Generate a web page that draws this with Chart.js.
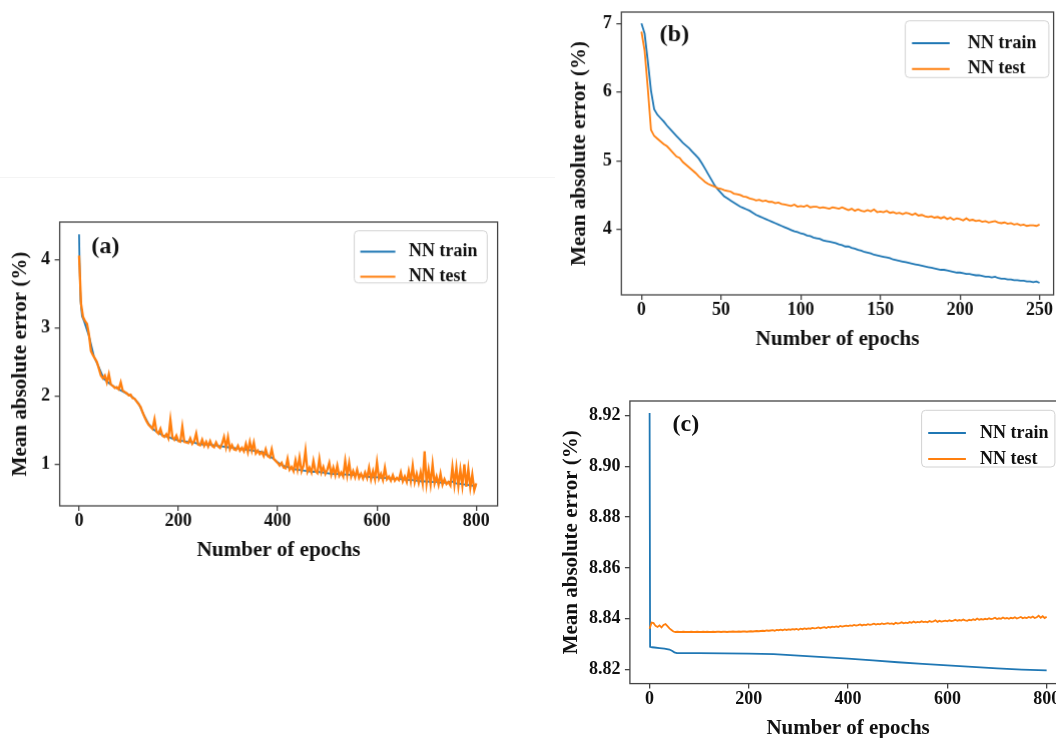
<!DOCTYPE html>
<html>
<head>
<meta charset="utf-8">
<script src="https://cdn.jsdelivr.net/npm/chart.js@4.4.0/dist/chart.umd.min.js"></script>
<style>
  html, body { margin: 0; padding: 0; background: #fff; }
  body { width: 1056px; height: 738px; overflow: hidden; position: relative; }
  .panel { position: absolute; }
  .rule { position: absolute; left: 0; top: 177px; width: 555px; height: 1px; background: #f4f4f4; }
</style>
</head>
<body>
<div class="rule"></div>
<div class="panel"><canvas id="chartA"></canvas></div>
<div class="panel"><canvas id="chartB"></canvas></div>
<div class="panel"><canvas id="chartC"></canvas></div>
<script>
const TRAIN_COLOR = '#1f77b4';
const TEST_COLOR = '#ff7f0e';
const SERIF = '"Liberation Serif", "Times New Roman", serif';
const INK = '#111';
const SPINE = '#444';

function steps(from, to, by) {
    const out = [];
    for (let v = from; v <= to; v += by) out.push(v);
    return out;
}

// ---- (a) 800 epochs ----
const testEpochsA = steps(0, 800, 4);
const testA = [
    4.06, 3.35, 3.16, 3.10, 3.06, 2.90, 2.66, 2.60, 2.55, 2.50,
    2.40, 2.30, 2.26, 2.30, 2.20, 2.32, 2.17, 2.15, 2.12, 2.13,
    2.10, 2.20, 2.08, 2.06, 2.04, 2.01, 2.02, 1.97, 1.96, 1.92,
    1.88, 1.84, 1.76, 1.69, 1.63, 1.58, 1.55, 1.52, 1.66, 1.48,
    1.45, 1.52, 1.42, 1.40, 1.44, 1.38, 1.65, 1.40, 1.36, 1.42,
    1.34, 1.33, 1.55, 1.33, 1.32, 1.31, 1.38, 1.30, 1.34, 1.45,
    1.29, 1.28, 1.36, 1.27, 1.33, 1.26, 1.34, 1.27, 1.25, 1.32,
    1.26, 1.24, 1.30, 1.40, 1.25, 1.40, 1.22, 1.28, 1.22, 1.21,
    1.27, 1.20, 1.24, 1.19, 1.30, 1.18, 1.33, 1.20, 1.32, 1.16,
    1.20, 1.15, 1.18, 1.12, 1.22, 1.12, 1.10, 1.22, 1.08, 1.05,
    1.02, 0.98, 1.02, 0.95, 0.94, 1.08, 0.92, 0.96, 0.90, 1.06,
    0.92, 1.10, 0.90, 0.98, 1.20, 0.89, 0.95, 0.88, 1.05, 0.90,
    0.87, 1.08, 0.88, 0.96, 0.86, 0.92, 1.02, 0.85, 0.95, 0.84,
    0.98, 0.83, 0.88, 0.82, 1.05, 0.84, 1.02, 0.82, 0.90, 0.81,
    0.92, 0.80, 0.86, 0.79, 0.88, 0.80, 0.95, 0.78, 0.90, 0.78,
    1.03, 0.79, 0.86, 0.77, 0.95, 0.78, 0.82, 0.76, 0.84, 0.76,
    0.80, 0.77, 0.88, 0.75, 0.82, 0.74, 0.90, 0.75, 0.98, 0.74,
    0.86, 0.73, 0.88, 0.72, 1.19, 0.72, 0.92, 0.71, 1.00, 0.72,
    0.82, 0.70, 0.86, 0.70, 0.78, 0.71, 0.74, 0.69, 0.96, 0.70,
    0.95, 0.68, 0.92, 0.69, 1.00, 0.67, 0.93, 0.66, 0.85, 0.62,
    0.72
];
const trainEpochsA = [0, 1, 3, 6].concat(steps(10, 800, 10));
const trainA = [
    4.37, 3.95, 3.40, 3.17,
    3.10, 2.88, 2.58, 2.42, 2.25, 2.19, 2.14, 2.10, 2.06,
    2.02, 1.97, 1.89, 1.73, 1.59, 1.51, 1.46, 1.42, 1.40, 1.37,
    1.35, 1.34, 1.33, 1.32, 1.30, 1.29, 1.29, 1.28, 1.27, 1.26,
    1.25, 1.24, 1.23, 1.22, 1.21, 1.20, 1.19, 1.18, 1.13, 1.09,
    1.03, 0.98, 0.96, 0.93, 0.92, 0.91, 0.90, 0.89, 0.89, 0.88,
    0.87, 0.86, 0.86, 0.85, 0.85, 0.84, 0.86, 0.83, 0.82, 0.81,
    0.81, 0.80, 0.80, 0.79, 0.79, 0.78, 0.77, 0.77, 0.76, 0.75,
    0.75, 0.74, 0.74, 0.73, 0.73, 0.75, 0.72, 0.71, 0.70, 0.69,
    0.68
];
const xTicksA = [0, 200, 400, 600, 800];
const yTicksA = [1, 2, 3, 4];

// ---- (b) 250 epochs ----
const epochsB = steps(0, 250, 2);
const trainB = [
    7.00, 6.85, 6.45, 6.02, 5.75, 5.67, 5.62, 5.57, 5.51, 5.46,
    5.41, 5.36, 5.31, 5.26, 5.22, 5.18, 5.13, 5.08, 5.03, 4.96,
    4.88, 4.80, 4.72, 4.64, 4.58, 4.53, 4.48, 4.45, 4.42, 4.39,
    4.36, 4.33, 4.31, 4.29, 4.27, 4.24, 4.21, 4.19, 4.17, 4.15,
    4.13, 4.11, 4.09, 4.07, 4.05, 4.03, 4.01, 3.99, 3.97, 3.96,
    3.94, 3.93, 3.91, 3.90, 3.88, 3.87, 3.86, 3.84, 3.83, 3.82,
    3.81, 3.80, 3.78, 3.77, 3.75, 3.75, 3.73, 3.72, 3.70, 3.69,
    3.67, 3.66, 3.65, 3.63, 3.62, 3.61, 3.60, 3.59, 3.58, 3.56,
    3.55, 3.54, 3.53, 3.52, 3.51, 3.50, 3.49, 3.48, 3.47, 3.46,
    3.45, 3.44, 3.43, 3.42, 3.41, 3.41, 3.40, 3.39, 3.38, 3.37,
    3.37, 3.36, 3.35, 3.35, 3.34, 3.33, 3.33, 3.32, 3.31, 3.31,
    3.30, 3.31, 3.29, 3.28, 3.28, 3.27, 3.27, 3.26, 3.26, 3.25,
    3.25, 3.24, 3.24, 3.23, 3.24, 3.22
];
const testB = [
    6.88, 6.60, 6.05, 5.45, 5.36, 5.32, 5.28, 5.24, 5.21, 5.16,
    5.11, 5.06, 5.04, 4.98, 4.94, 4.90, 4.86, 4.82, 4.77, 4.73,
    4.69, 4.66, 4.64, 4.62, 4.60, 4.59, 4.57, 4.56, 4.55, 4.52,
    4.51, 4.50, 4.48, 4.47, 4.45, 4.44, 4.42, 4.43, 4.41, 4.42,
    4.40, 4.40, 4.38, 4.39, 4.37, 4.36, 4.35, 4.34, 4.36, 4.33,
    4.34, 4.33, 4.35, 4.32, 4.33, 4.33, 4.31, 4.32, 4.31, 4.30,
    4.32, 4.31, 4.30, 4.32, 4.30, 4.28, 4.30, 4.27, 4.29, 4.27,
    4.26, 4.28, 4.26, 4.29, 4.25, 4.26, 4.25, 4.27, 4.24, 4.25,
    4.23, 4.24, 4.22, 4.24, 4.23, 4.21, 4.23, 4.20, 4.21, 4.19,
    4.18, 4.19, 4.17, 4.18, 4.16, 4.18, 4.15, 4.17, 4.14, 4.16,
    4.15, 4.13, 4.16, 4.13, 4.14, 4.12, 4.13, 4.11, 4.12, 4.10,
    4.11, 4.12, 4.10, 4.09, 4.10, 4.08, 4.09, 4.07, 4.08, 4.06,
    4.07, 4.05, 4.06, 4.06, 4.05, 4.07
];
const xTicksB = [0, 50, 100, 150, 200, 250];
const yTicksB = [4, 5, 6, 7];

// ---- (c) 800 epochs ----
const trainEpochsC = [0, 1, 5, 10, 20, 30, 40, 45, 50, 55, 100, 150, 200, 250, 300,
    350, 400, 450, 500, 550, 600, 650, 700, 750, 800];
const trainC = [8.9210, 8.8290, 8.8288, 8.8287, 8.8285, 8.8283, 8.8279, 8.8274, 8.8268,
    8.8265, 8.8265, 8.8264, 8.8263, 8.8261, 8.8255, 8.8249, 8.8243, 8.8236, 8.8229,
    8.8223, 8.8217, 8.8211, 8.8205, 8.8200, 8.8197];
const testEpochsC = steps(0, 800, 4);
const testC = [
    8.8361, 8.8385, 8.8383, 8.8372, 8.8368, 8.8374, 8.8366, 8.8376, 8.8379, 8.8371,
    8.8362, 8.8356, 8.8350, 8.8348, 8.8349, 8.8348, 8.8348, 8.8349, 8.8348, 8.8348,
    8.8348, 8.8349, 8.8348, 8.8348, 8.8349, 8.8348, 8.8348, 8.8349, 8.8348, 8.8349,
    8.8348, 8.8348, 8.8349, 8.8348, 8.8349, 8.8349, 8.8348, 8.8349, 8.8349, 8.8348,
    8.8349, 8.8349, 8.8350, 8.8349, 8.8349, 8.8350, 8.8349, 8.8350, 8.8350, 8.8349,
    8.8350, 8.8351, 8.8350, 8.8351, 8.8352, 8.8351, 8.8352, 8.8353, 8.8352, 8.8354,
    8.8353, 8.8354, 8.8355, 8.8353, 8.8356, 8.8355, 8.8357, 8.8355, 8.8358, 8.8356,
    8.8358, 8.8357, 8.8359, 8.8358, 8.8360, 8.8357, 8.8361, 8.8359, 8.8362, 8.8360,
    8.8362, 8.8361, 8.8364, 8.8362, 8.8363, 8.8366, 8.8363, 8.8365, 8.8367, 8.8364,
    8.8368, 8.8366, 8.8369, 8.8367, 8.8370, 8.8368, 8.8372, 8.8369, 8.8371, 8.8373,
    8.8371, 8.8374, 8.8372, 8.8376, 8.8373, 8.8375, 8.8378, 8.8374, 8.8377, 8.8375,
    8.8379, 8.8376, 8.8378, 8.8381, 8.8377, 8.8380, 8.8378, 8.8382, 8.8379, 8.8381,
    8.8383, 8.8380, 8.8382, 8.8379, 8.8384, 8.8381, 8.8383, 8.8386, 8.8382, 8.8385,
    8.8383, 8.8387, 8.8384, 8.8389, 8.8385, 8.8388, 8.8386, 8.8390, 8.8387, 8.8389,
    8.8386, 8.8391, 8.8388, 8.8390, 8.8394, 8.8388, 8.8392, 8.8389, 8.8391, 8.8393,
    8.8390, 8.8394, 8.8391, 8.8393, 8.8396, 8.8392, 8.8395, 8.8393, 8.8397, 8.8394,
    8.8392, 8.8396, 8.8394, 8.8398, 8.8395, 8.8401, 8.8396, 8.8399, 8.8397, 8.8400,
    8.8398, 8.8402, 8.8399, 8.8401, 8.8404, 8.8399, 8.8402, 8.8400, 8.8405, 8.8401,
    8.8403, 8.8400, 8.8404, 8.8402, 8.8406, 8.8401, 8.8404, 8.8407, 8.8402, 8.8405,
    8.8403, 8.8407, 8.8404, 8.8409, 8.8403, 8.8406, 8.8412, 8.8404, 8.8410, 8.8403,
    8.8408
];
const xTicksC = [0, 200, 400, 600, 800];
const yTicksC = [8.82, 8.84, 8.86, 8.88, 8.90, 8.92];

const seriesLabels = ['NN train', 'NN test'];
const xTitle = 'Number of epochs';
const yTitle = 'Mean absolute error (%)';

// frame, panel tag and in-axes legend box
const panelDecor = {
    id: 'panelDecor',
    afterDatasetsDraw(chart, args, o) {
        const ctx = chart.ctx;
        const ca = chart.chartArea;
        ctx.save();
        ctx.strokeStyle = SPINE;
        ctx.lineWidth = 1.3;
        ctx.strokeRect(ca.left, ca.top, ca.right - ca.left, ca.bottom - ca.top);

        ctx.fillStyle = INK;
        ctx.font = 'bold 24px ' + SERIF;
        ctx.textBaseline = 'middle';
        ctx.textAlign = 'left';
        ctx.fillText(o.tag, ca.left + o.tagX, ca.top + o.tagY);

        const L = o.legend;
        const bx = ca.left + L.x, by = ca.top + L.y;
        ctx.beginPath();
        ctx.roundRect(bx, by, L.w, L.h, 4);
        ctx.fillStyle = 'rgba(255,255,255,0.85)';
        ctx.fill();
        ctx.strokeStyle = '#d2d2d2';
        ctx.lineWidth = 1;
        ctx.stroke();

        ctx.font = 'bold 18px ' + SERIF;
        chart.data.datasets.forEach((ds, i) => {
            const ry = by + L.rows[i];
            ctx.strokeStyle = ds.borderColor;
            ctx.lineWidth = 2;
            ctx.beginPath();
            ctx.moveTo(bx + L.line[0], ry);
            ctx.lineTo(bx + L.line[1], ry);
            ctx.stroke();
            ctx.fillStyle = INK;
            ctx.fillText(ds.label, bx + L.text, ry);
        });
        ctx.restore();
    }
};

function toPoints(xs, ys) {
    return ys.map((y, i) => ({ x: xs[i], y: y }));
}

const PAD_TOP = 20;
const PAD_RIGHT = 30;
const X_AXIS_H = 57.6;

function buildPanel(canvasId, p) {
    const canvas = document.getElementById(canvasId);
    const wrap = canvas.parentNode;
    const f = p.frame;
    wrap.style.left = (f.left - p.yAxisW) + 'px';
    wrap.style.top = (f.top - PAD_TOP) + 'px';
    wrap.style.width = (p.yAxisW + f.right - f.left + PAD_RIGHT) + 'px';
    wrap.style.height = (PAD_TOP + f.bottom - f.top + X_AXIS_H) + 'px';

    const tickFont = { family: SERIF, size: 18, weight: 'bold' };
    const titleFont = { family: SERIF, size: 21, weight: 'bold' };
    const grid = { drawOnChartArea: false, drawTicks: true, tickLength: 5, color: SPINE, lineWidth: 1.3 };

    return new Chart(canvas.getContext('2d'), {
        type: 'line',
        data: {
            datasets: [
                { label: seriesLabels[0], data: toPoints(p.trainX, p.train), borderColor: TRAIN_COLOR,
                  borderWidth: 1.8, pointRadius: 0, tension: 0, order: 1 },
                { label: seriesLabels[1], data: toPoints(p.testX, p.test), borderColor: TEST_COLOR,
                  borderWidth: p.testWidth, pointRadius: 0, tension: 0, order: 0 }
            ]
        },
        options: {
            responsive: true,
            maintainAspectRatio: false,
            animation: false,
            layout: { padding: { top: PAD_TOP, right: PAD_RIGHT, left: 0, bottom: 0 } },
            plugins: {
                legend: { display: false },
                tooltip: { enabled: false },
                panelDecor: { tag: p.tag, tagX: p.tagX, tagY: p.tagY, legend: p.legend }
            },
            scales: {
                x: {
                    type: 'linear',
                    min: p.xMin, max: p.xMax,
                    afterBuildTicks: s => { s.ticks = p.xTicks.map(v => ({ value: v })); },
                    afterFit: s => { s.height = X_AXIS_H; },
                    grid: grid,
                    border: { display: false },
                    ticks: { font: tickFont, color: INK, padding: 0, maxRotation: 0, autoSkip: false },
                    title: { display: true, text: xTitle, font: titleFont, color: INK, padding: 0 }
                },
                y: {
                    type: 'linear',
                    min: p.yMin, max: p.yMax,
                    afterBuildTicks: s => { s.ticks = p.yTicks.map(v => ({ value: v })); },
                    afterFit: s => { s.width = p.yAxisW; },
                    grid: grid,
                    border: { display: false },
                    ticks: { font: tickFont, color: INK, padding: 4.5, autoSkip: false,
                             callback: v => v.toFixed(p.decimals) },
                    title: { display: true, text: yTitle, font: titleFont, color: INK, padding: 0 }
                }
            }
        },
        plugins: [panelDecor]
    });
}

buildPanel('chartA', {
    frame: { left: 60, top: 222, right: 497, bottom: 505 }, yAxisW: 51.6,
    xMin: -39, xMax: 843, yMin: 0.39, yMax: 4.55, xTicks: xTicksA, yTicks: yTicksA, decimals: 0,
    trainX: trainEpochsA, train: trainA, testX: testEpochsA, test: testA, testWidth: 2.3,
    tag: '(a)', tagX: 31.7, tagY: 24.7,
    legend: { x: 294, y: 8.7, w: 132.7, h: 52, rows: [20.7, 45.7], line: [6, 41], text: 54.3 }
});

buildPanel('chartB', {
    frame: { left: 621.7, top: 12, right: 1053, bottom: 294 }, yAxisW: 54.3,
    xMin: -12.6, xMax: 258.8, yMin: 3.045, yMax: 7.165, xTicks: xTicksB, yTicks: yTicksB, decimals: 0,
    trainX: epochsB, train: trainB, testX: epochsB, test: testB, testWidth: 1.8,
    tag: '(b)', tagX: 38.3, tagY: 23,
    legend: { x: 283.3, y: 8.7, w: 143.3, h: 56.6, rows: [22.3, 48], line: [6.7, 44.3], text: 62.3 }
});

buildPanel('chartC', {
    frame: { left: 630, top: 400.7, right: 1066.4, bottom: 683.3 }, yAxisW: 70.9,
    xMin: -39.7, xMax: 839.6, yMin: 8.8145, yMax: 8.9257, xTicks: xTicksC, yTicks: yTicksC, decimals: 2,
    trainX: trainEpochsC, train: trainC, testX: testEpochsC, test: testC, testWidth: 1.8,
    tag: '(c)', tagX: 42.7, tagY: 23.6,
    legend: { x: 291.7, y: 9.3, w: 133.3, h: 56.7, rows: [22.6, 48.6], line: [6.6, 44.3], text: 58.3 }
});
</script>
</body>
</html>
